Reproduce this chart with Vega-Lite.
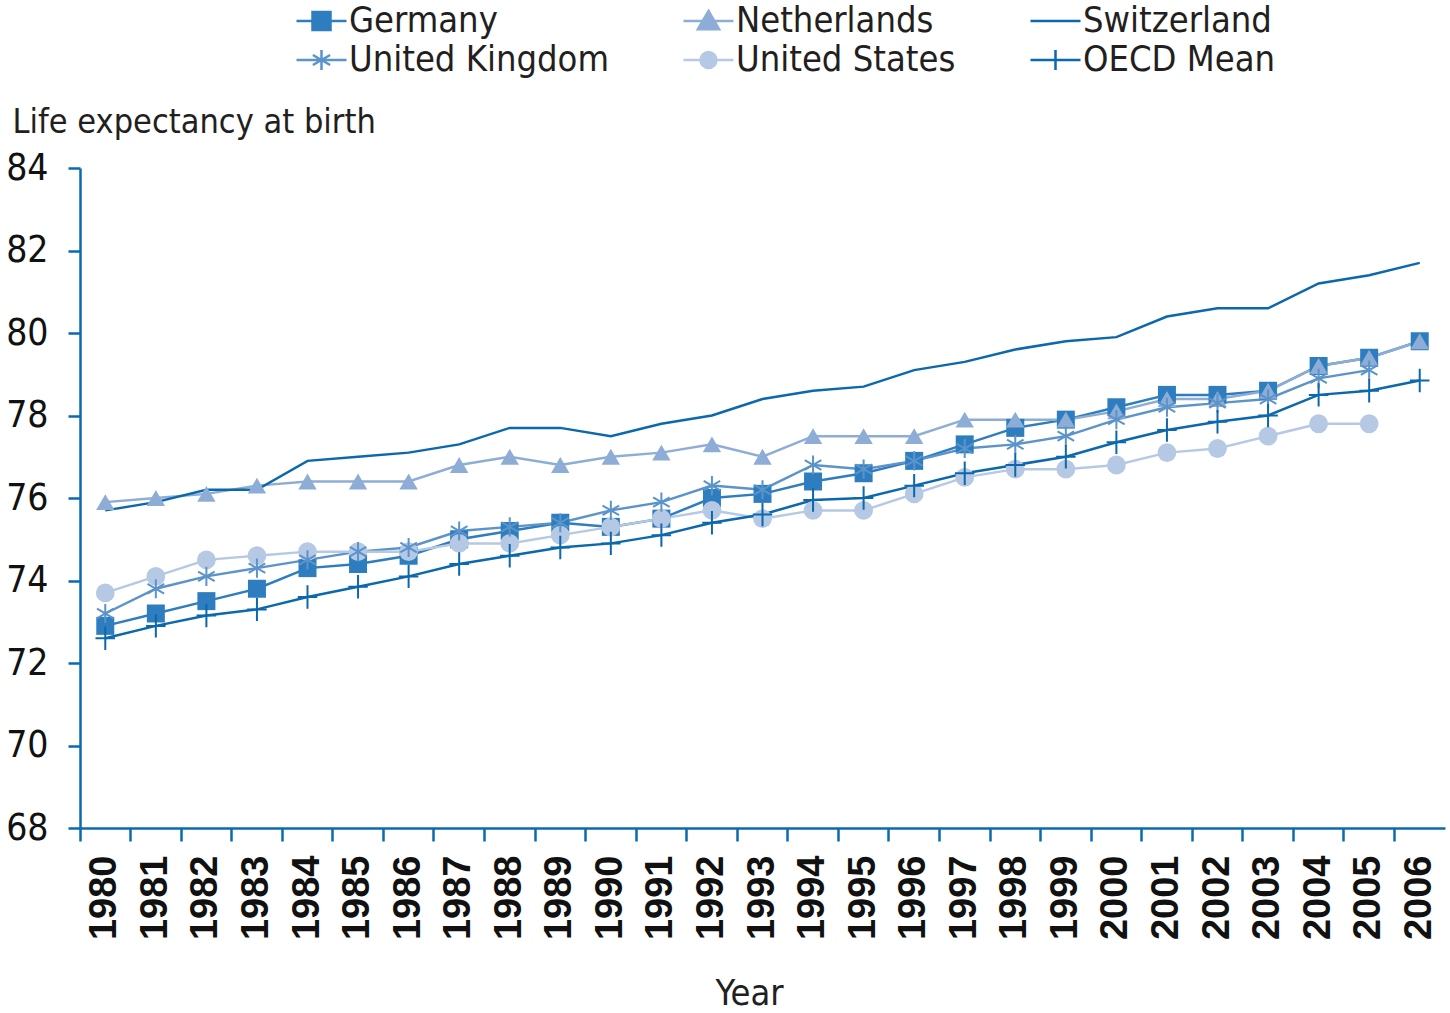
{
  "$schema": "https://vega.github.io/schema/vega-lite/v6.json",
  "width": 1365,
  "height": 660,
  "autosize": "none",
  "padding": {"left": 80, "top": 168, "right": 5, "bottom": 185},
  "background": "white",
  "config": {
    "view": {"stroke": null},
    "axis": {
      "grid": false,
      "domainColor": "#0b6aae",
      "tickColor": "#0b6aae",
      "domainWidth": 2.5,
      "tickWidth": 2.5,
      "labelColor": "#111111",
      "titleColor": "#231f20",
      "titleFontWeight": "normal",
      "titleFont": "'Liberation Sans Narrow', 'DejaVu Sans Condensed', 'Roboto Condensed', Roboto, sans-serif",
      "titleFontSize": 36
    }
  },
  "data": {
    "values": [
      {"year": 1980, "country": "Germany", "value": 72.9},
      {"year": 1981, "country": "Germany", "value": 73.2},
      {"year": 1982, "country": "Germany", "value": 73.5},
      {"year": 1983, "country": "Germany", "value": 73.8},
      {"year": 1984, "country": "Germany", "value": 74.3},
      {"year": 1985, "country": "Germany", "value": 74.4},
      {"year": 1986, "country": "Germany", "value": 74.6},
      {"year": 1987, "country": "Germany", "value": 75.0},
      {"year": 1988, "country": "Germany", "value": 75.2},
      {"year": 1989, "country": "Germany", "value": 75.4},
      {"year": 1990, "country": "Germany", "value": 75.3},
      {"year": 1991, "country": "Germany", "value": 75.5},
      {"year": 1992, "country": "Germany", "value": 76.0},
      {"year": 1993, "country": "Germany", "value": 76.1},
      {"year": 1994, "country": "Germany", "value": 76.4},
      {"year": 1995, "country": "Germany", "value": 76.6},
      {"year": 1996, "country": "Germany", "value": 76.9},
      {"year": 1997, "country": "Germany", "value": 77.3},
      {"year": 1998, "country": "Germany", "value": 77.7},
      {"year": 1999, "country": "Germany", "value": 77.9},
      {"year": 2000, "country": "Germany", "value": 78.2},
      {"year": 2001, "country": "Germany", "value": 78.5},
      {"year": 2002, "country": "Germany", "value": 78.5},
      {"year": 2003, "country": "Germany", "value": 78.6},
      {"year": 2004, "country": "Germany", "value": 79.2},
      {"year": 2005, "country": "Germany", "value": 79.4},
      {"year": 2006, "country": "Germany", "value": 79.8},
      {"year": 1980, "country": "Netherlands", "value": 75.9},
      {"year": 1981, "country": "Netherlands", "value": 76.0},
      {"year": 1982, "country": "Netherlands", "value": 76.1},
      {"year": 1983, "country": "Netherlands", "value": 76.3},
      {"year": 1984, "country": "Netherlands", "value": 76.4},
      {"year": 1985, "country": "Netherlands", "value": 76.4},
      {"year": 1986, "country": "Netherlands", "value": 76.4},
      {"year": 1987, "country": "Netherlands", "value": 76.8},
      {"year": 1988, "country": "Netherlands", "value": 77.0},
      {"year": 1989, "country": "Netherlands", "value": 76.8},
      {"year": 1990, "country": "Netherlands", "value": 77.0},
      {"year": 1991, "country": "Netherlands", "value": 77.1},
      {"year": 1992, "country": "Netherlands", "value": 77.3},
      {"year": 1993, "country": "Netherlands", "value": 77.0},
      {"year": 1994, "country": "Netherlands", "value": 77.5},
      {"year": 1995, "country": "Netherlands", "value": 77.5},
      {"year": 1996, "country": "Netherlands", "value": 77.5},
      {"year": 1997, "country": "Netherlands", "value": 77.9},
      {"year": 1998, "country": "Netherlands", "value": 77.9},
      {"year": 1999, "country": "Netherlands", "value": 77.9},
      {"year": 2000, "country": "Netherlands", "value": 78.1},
      {"year": 2001, "country": "Netherlands", "value": 78.4},
      {"year": 2002, "country": "Netherlands", "value": 78.4},
      {"year": 2003, "country": "Netherlands", "value": 78.6},
      {"year": 2004, "country": "Netherlands", "value": 79.2},
      {"year": 2005, "country": "Netherlands", "value": 79.4},
      {"year": 2006, "country": "Netherlands", "value": 79.8},
      {"year": 1980, "country": "Switzerland", "value": 75.7},
      {"year": 1981, "country": "Switzerland", "value": 75.9},
      {"year": 1982, "country": "Switzerland", "value": 76.2},
      {"year": 1983, "country": "Switzerland", "value": 76.2},
      {"year": 1984, "country": "Switzerland", "value": 76.9},
      {"year": 1985, "country": "Switzerland", "value": 77.0},
      {"year": 1986, "country": "Switzerland", "value": 77.1},
      {"year": 1987, "country": "Switzerland", "value": 77.3},
      {"year": 1988, "country": "Switzerland", "value": 77.7},
      {"year": 1989, "country": "Switzerland", "value": 77.7},
      {"year": 1990, "country": "Switzerland", "value": 77.5},
      {"year": 1991, "country": "Switzerland", "value": 77.8},
      {"year": 1992, "country": "Switzerland", "value": 78.0},
      {"year": 1993, "country": "Switzerland", "value": 78.4},
      {"year": 1994, "country": "Switzerland", "value": 78.6},
      {"year": 1995, "country": "Switzerland", "value": 78.7},
      {"year": 1996, "country": "Switzerland", "value": 79.1},
      {"year": 1997, "country": "Switzerland", "value": 79.3},
      {"year": 1998, "country": "Switzerland", "value": 79.6},
      {"year": 1999, "country": "Switzerland", "value": 79.8},
      {"year": 2000, "country": "Switzerland", "value": 79.9},
      {"year": 2001, "country": "Switzerland", "value": 80.4},
      {"year": 2002, "country": "Switzerland", "value": 80.6},
      {"year": 2003, "country": "Switzerland", "value": 80.6},
      {"year": 2004, "country": "Switzerland", "value": 81.2},
      {"year": 2005, "country": "Switzerland", "value": 81.4},
      {"year": 2006, "country": "Switzerland", "value": 81.7},
      {"year": 1980, "country": "United Kingdom", "value": 73.2},
      {"year": 1981, "country": "United Kingdom", "value": 73.8},
      {"year": 1982, "country": "United Kingdom", "value": 74.1},
      {"year": 1983, "country": "United Kingdom", "value": 74.3},
      {"year": 1984, "country": "United Kingdom", "value": 74.5},
      {"year": 1985, "country": "United Kingdom", "value": 74.7},
      {"year": 1986, "country": "United Kingdom", "value": 74.8},
      {"year": 1987, "country": "United Kingdom", "value": 75.2},
      {"year": 1988, "country": "United Kingdom", "value": 75.3},
      {"year": 1989, "country": "United Kingdom", "value": 75.4},
      {"year": 1990, "country": "United Kingdom", "value": 75.7},
      {"year": 1991, "country": "United Kingdom", "value": 75.9},
      {"year": 1992, "country": "United Kingdom", "value": 76.3},
      {"year": 1993, "country": "United Kingdom", "value": 76.2},
      {"year": 1994, "country": "United Kingdom", "value": 76.8},
      {"year": 1995, "country": "United Kingdom", "value": 76.7},
      {"year": 1996, "country": "United Kingdom", "value": 76.9},
      {"year": 1997, "country": "United Kingdom", "value": 77.2},
      {"year": 1998, "country": "United Kingdom", "value": 77.3},
      {"year": 1999, "country": "United Kingdom", "value": 77.5},
      {"year": 2000, "country": "United Kingdom", "value": 77.9},
      {"year": 2001, "country": "United Kingdom", "value": 78.2},
      {"year": 2002, "country": "United Kingdom", "value": 78.3},
      {"year": 2003, "country": "United Kingdom", "value": 78.4},
      {"year": 2004, "country": "United Kingdom", "value": 78.9},
      {"year": 2005, "country": "United Kingdom", "value": 79.1},
      {"year": 1980, "country": "United States", "value": 73.7},
      {"year": 1981, "country": "United States", "value": 74.1},
      {"year": 1982, "country": "United States", "value": 74.5},
      {"year": 1983, "country": "United States", "value": 74.6},
      {"year": 1984, "country": "United States", "value": 74.7},
      {"year": 1985, "country": "United States", "value": 74.7},
      {"year": 1986, "country": "United States", "value": 74.7},
      {"year": 1987, "country": "United States", "value": 74.9},
      {"year": 1988, "country": "United States", "value": 74.9},
      {"year": 1989, "country": "United States", "value": 75.1},
      {"year": 1990, "country": "United States", "value": 75.3},
      {"year": 1991, "country": "United States", "value": 75.5},
      {"year": 1992, "country": "United States", "value": 75.7},
      {"year": 1993, "country": "United States", "value": 75.5},
      {"year": 1994, "country": "United States", "value": 75.7},
      {"year": 1995, "country": "United States", "value": 75.7},
      {"year": 1996, "country": "United States", "value": 76.1},
      {"year": 1997, "country": "United States", "value": 76.5},
      {"year": 1998, "country": "United States", "value": 76.7},
      {"year": 1999, "country": "United States", "value": 76.7},
      {"year": 2000, "country": "United States", "value": 76.8},
      {"year": 2001, "country": "United States", "value": 77.1},
      {"year": 2002, "country": "United States", "value": 77.2},
      {"year": 2003, "country": "United States", "value": 77.5},
      {"year": 2004, "country": "United States", "value": 77.8},
      {"year": 2005, "country": "United States", "value": 77.8},
      {"year": 1980, "country": "OECD Mean", "value": 72.6},
      {"year": 1981, "country": "OECD Mean", "value": 72.9},
      {"year": 1982, "country": "OECD Mean", "value": 73.15},
      {"year": 1983, "country": "OECD Mean", "value": 73.3},
      {"year": 1984, "country": "OECD Mean", "value": 73.6},
      {"year": 1985, "country": "OECD Mean", "value": 73.85},
      {"year": 1986, "country": "OECD Mean", "value": 74.1},
      {"year": 1987, "country": "OECD Mean", "value": 74.4},
      {"year": 1988, "country": "OECD Mean", "value": 74.6},
      {"year": 1989, "country": "OECD Mean", "value": 74.8},
      {"year": 1990, "country": "OECD Mean", "value": 74.9},
      {"year": 1991, "country": "OECD Mean", "value": 75.1},
      {"year": 1992, "country": "OECD Mean", "value": 75.4},
      {"year": 1993, "country": "OECD Mean", "value": 75.6},
      {"year": 1994, "country": "OECD Mean", "value": 75.95},
      {"year": 1995, "country": "OECD Mean", "value": 76.0},
      {"year": 1996, "country": "OECD Mean", "value": 76.3},
      {"year": 1997, "country": "OECD Mean", "value": 76.6},
      {"year": 1998, "country": "OECD Mean", "value": 76.8},
      {"year": 1999, "country": "OECD Mean", "value": 77.0},
      {"year": 2000, "country": "OECD Mean", "value": 77.35},
      {"year": 2001, "country": "OECD Mean", "value": 77.65},
      {"year": 2002, "country": "OECD Mean", "value": 77.85},
      {"year": 2003, "country": "OECD Mean", "value": 78.0},
      {"year": 2004, "country": "OECD Mean", "value": 78.5},
      {"year": 2005, "country": "OECD Mean", "value": 78.6},
      {"year": 2006, "country": "OECD Mean", "value": 78.85}
    ]
  },
  "encoding": {
    "x": {
      "field": "year",
      "type": "ordinal",
      "scale": {"type": "band", "paddingInner": 0, "paddingOuter": 0},
      "axis": {
        "title": "Year",
        "bandPosition": 0,
        "labelOffset": 0,
        "labelAngle": 270,
        "labelFont": "'Liberation Sans', Arial, sans-serif",
        "labelFontWeight": "bold",
        "labelFontSize": 38,
        "labelPadding": 14,
        "tickSize": 13,
        "titleX": 669,
        "titleY": 176,
        "titleBaseline": "alphabetic",
        "titleAlign": "center"
      }
    },
    "y": {
      "field": "value",
      "type": "quantitative",
      "scale": {"domain": [68, 84], "nice": false, "zero": false},
      "axis": {
        "title": "Life expectancy at birth",
        "values": [68, 70, 72, 74, 76, 78, 80, 82, 84],
        "labelFont": "'Liberation Sans Narrow', 'DejaVu Sans Condensed', 'Roboto Condensed', Roboto, sans-serif",
        "labelFontSize": 37,
        "labelPadding": 20,
        "tickSize": 12,
        "titleFontSize": 34,
        "titleAngle": 0,
        "titleAlign": "left",
        "titleBaseline": "alphabetic",
        "titleX": -68,
        "titleY": -36
      }
    },
    "color": {
      "field": "country",
      "type": "nominal",
      "scale": {
        "domain": ["Germany", "Netherlands", "Switzerland", "United Kingdom", "United States", "OECD Mean"],
        "range": ["#2e7ebf", "#8eadd6", "#0b68ac", "#5b93cb", "#b5c9e5", "#0b68ac"]
      }
    }
  },
  "layer": [
    {
      "mark": {"type": "line", "strokeWidth": 2.5},
      "encoding": {
        "color": {
          "field": "country",
          "type": "nominal",
          "legend": {
            "title": null,
            "orient": "none",
            "direction": "horizontal",
            "legendX": 211,
            "legendY": -165,
            "columns": 3,
            "columnPadding": 69,
            "rowPadding": 3,
            "gridAlign": "each",
            "symbolSize": 625,
            "symbolStrokeWidth": 2.5,
            "labelFont": "'Liberation Sans Narrow', 'DejaVu Sans Condensed', 'Roboto Condensed', Roboto, sans-serif",
            "labelFontSize": 36,
            "labelColor": "#231f20",
            "labelOffset": 22,
            "labelLimit": 500,
            "encode": {
              "symbols": {
                "update": {
                  "shape": {"signal": "datum.value === 'Germany' ? 'M-1,0H3M0.28,-0.72H1.72V0.72H0.28Z' : datum.value === 'Netherlands' ? 'M-1,0H3M1,-0.8L1.85,0.65H0.15Z' : datum.value === 'Switzerland' ? 'M-1,0H3' : datum.value === 'United Kingdom' ? 'M-1,0H3M1,-0.8V0.8M0.31,-0.4L1.69,0.4M0.31,0.4L1.69,-0.4' : datum.value === 'United States' ? 'M-1,0H3M0.36,0A0.64,0.64 0 1,0 1.64,0A0.64,0.64 0 1,0 0.36,0Z' : 'M-1,0H3M1,-0.8V0.8'"},
                  "fill": {"signal": "scale('color', datum.value)"},
                  "stroke": {"signal": "scale('color', datum.value)"},
                  "strokeWidth": {"value": 2.5},
                  "opacity": {"value": 1}
                }
              }
            }
          }
        }
      }
    },
    {
      "transform": [{"filter": "datum.country === 'Germany' || datum.country === 'Netherlands' || datum.country === 'United States'"}],
      "mark": {"type": "point", "filled": true, "opacity": 1},
      "encoding": {
        "color": {"field": "country", "type": "nominal", "legend": null},
        "shape": {
          "field": "country",
          "type": "nominal",
          "legend": null,
          "scale": {
            "domain": ["Germany", "Netherlands", "United States", "United Kingdom", "OECD Mean"],
            "range": ["square", "triangle-up", "circle", "M0,-1V1M-0.866,-0.5L0.866,0.5M-0.866,0.5L0.866,-0.5", "M-1,0H1M0,-1.2V1.2"]
          }
        },
        "size": {"field": "country", "type": "nominal", "legend": null, "scale": {"domain": ["Germany", "Netherlands", "United States", "United Kingdom", "OECD Mean"], "range": [324, 380, 210, 400, 324]}}
      }
    },
    {
      "transform": [{"filter": "datum.country === 'United Kingdom' || datum.country === 'OECD Mean'"}],
      "mark": {"type": "point", "filled": false, "opacity": 1, "strokeWidth": 2},
      "encoding": {
        "color": {"field": "country", "type": "nominal", "legend": null},
        "shape": {
          "field": "country",
          "type": "nominal",
          "legend": null,
          "scale": {
            "domain": ["Germany", "Netherlands", "United States", "United Kingdom", "OECD Mean"],
            "range": ["square", "triangle-up", "circle", "M0,-1V1M-0.866,-0.5L0.866,0.5M-0.866,0.5L0.866,-0.5", "M-1,0H1M0,-1.2V1.2"]
          }
        },
        "size": {"field": "country", "type": "nominal", "legend": null, "scale": {"domain": ["Germany", "Netherlands", "United States", "United Kingdom", "OECD Mean"], "range": [324, 380, 210, 400, 324]}}
      }
    }
  ]
}
